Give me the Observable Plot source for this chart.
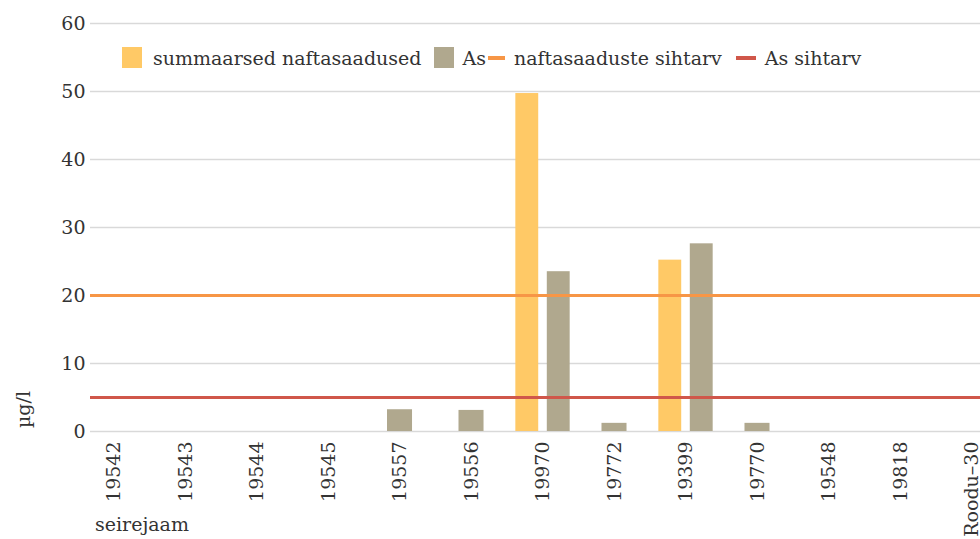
<!DOCTYPE html>
<html>
<head>
<meta charset="utf-8">
<script src="https://cdn.jsdelivr.net/npm/d3@7"></script>
<script src="https://cdn.jsdelivr.net/npm/@observablehq/plot@0.6"></script>
<style>
  html, body { margin: 0; padding: 0; background: #fff; overflow: hidden; }
  #wrap { position: relative; width: 980px; height: 539px; font-family: "DejaVu Serif", serif; color: #333; }
  #legend { position: absolute; left: 122px; top: 47px; height: 21px; display: flex; align-items: center; font-size: 19px; white-space: nowrap; }
  #legend .sw { display: inline-block; width: 20px; height: 21px; }
  #legend .ln { display: inline-block; height: 4px; }
  #xlabel { position: absolute; left: 95px; top: 513px; font-size: 19px; white-space: nowrap; }
  #ylabel { position: absolute; left: 24px; top: 428px; font-size: 19px; white-space: nowrap; transform-origin: 0 0; transform: rotate(-90deg) translate(0, -0.62em); line-height: 1.2; }
</style>
</head>
<body>
<div id="wrap"></div>
<script>
const categories = ["19542","19543","19544","19545","19557","19556","19970","19772","19399","19770","19548","19818","Roodu–30"];
const naftasaadused = [null,null,null,null,null,null,49.7,null,25.2,null,null,null,null];
const arseen = [null,null,null,null,3.2,3.1,23.5,1.2,27.6,1.2,null,null,null];
const seriesNames = ["summaarsed naftasaadused","As"];
const seriesColors = ["#FFC966","#B0A88E"];
const targetNames = ["naftasaaduste sihtarv","As sihtarv"];
const targetValues = [20, 5];
const targetColors = ["#F79646","#D0574A"];
const yTicks = [0,10,20,30,40,50,60];
const xTitle = "seirejaam";
const yTitle = "µg/l";

// build bar rows (positions in category-index units)
const rows = [];
categories.forEach((c, i) => {
  const present = [[seriesNames[0], naftasaadused[i], seriesColors[0]], [seriesNames[1], arseen[i], seriesColors[1]]]
    .filter(d => d[1] != null);
  if (present.length === 1) {
    rows.push({cat: c, series: present[0][0], value: present[0][1], fill: present[0][2], x1: i - 0.175, x2: i + 0.175});
  } else if (present.length === 2) {
    rows.push({cat: c, series: present[0][0], value: present[0][1], fill: present[0][2], x1: i - 0.38, x2: i - 0.06});
    rows.push({cat: c, series: present[1][0], value: present[1][1], fill: present[1][2], x1: i + 0.06, x2: i + 0.38});
  }
});

const chart = Plot.plot({
  width: 980,
  height: 539,
  marginTop: 23,
  marginBottom: 108,
  marginLeft: 90,
  marginRight: 0,
  style: {fontFamily: "DejaVu Serif, serif", fontSize: "19px", color: "#333", background: "#fff", overflow: "visible"},
  x: {type: "linear", domain: [-0.329, 12.119]},
  y: {domain: [0, 60]},
  marks: [
    Plot.ruleY(yTicks, {stroke: "#d9d9d9", strokeWidth: 1.3}),
    Plot.rectY(rows, {x1: "x1", x2: "x2", y: "value", fill: "fill"}),
    Plot.ruleY([targetValues[0]], {stroke: targetColors[0], strokeWidth: 3}),
    Plot.ruleY([targetValues[1]], {stroke: targetColors[1], strokeWidth: 3}),
    Plot.axisY({ticks: yTicks, tickSize: 0, tickPadding: 5, label: null}),
    Plot.axisX({ticks: d3.range(categories.length), tickFormat: i => categories[i], tickRotate: -90, tickSize: 0, tickPadding: 10, label: null})
  ]
});

const wrap = document.getElementById("wrap");
wrap.appendChild(chart);

const legend = document.createElement("div");
legend.id = "legend";
const items = [
  {type: "sw", color: seriesColors[0], text: seriesNames[0], gapBefore: 0, gapInner: 11, w: 20},
  {type: "sw", color: seriesColors[1], text: seriesNames[1], gapBefore: 13, gapInner: 8, w: 20},
  {type: "ln", color: targetColors[0], text: targetNames[0], gapBefore: 2, gapInner: 9, w: 17},
  {type: "ln", color: targetColors[1], text: targetNames[1], gapBefore: 14, gapInner: 9, w: 20}
];
items.forEach(d => {
  const s = document.createElement("span");
  s.className = d.type;
  s.style.background = d.color;
  s.style.width = d.w + "px";
  s.style.marginLeft = d.gapBefore + "px";
  s.style.marginRight = d.gapInner + "px";
  const t = document.createElement("span");
  t.textContent = d.text;
  legend.appendChild(s);
  legend.appendChild(t);
});
wrap.appendChild(legend);

const xl = document.createElement("div");
xl.id = "xlabel"; xl.textContent = xTitle; wrap.appendChild(xl);
const yl = document.createElement("div");
yl.id = "ylabel"; yl.textContent = yTitle; wrap.appendChild(yl);
</script>
</body>
</html>
